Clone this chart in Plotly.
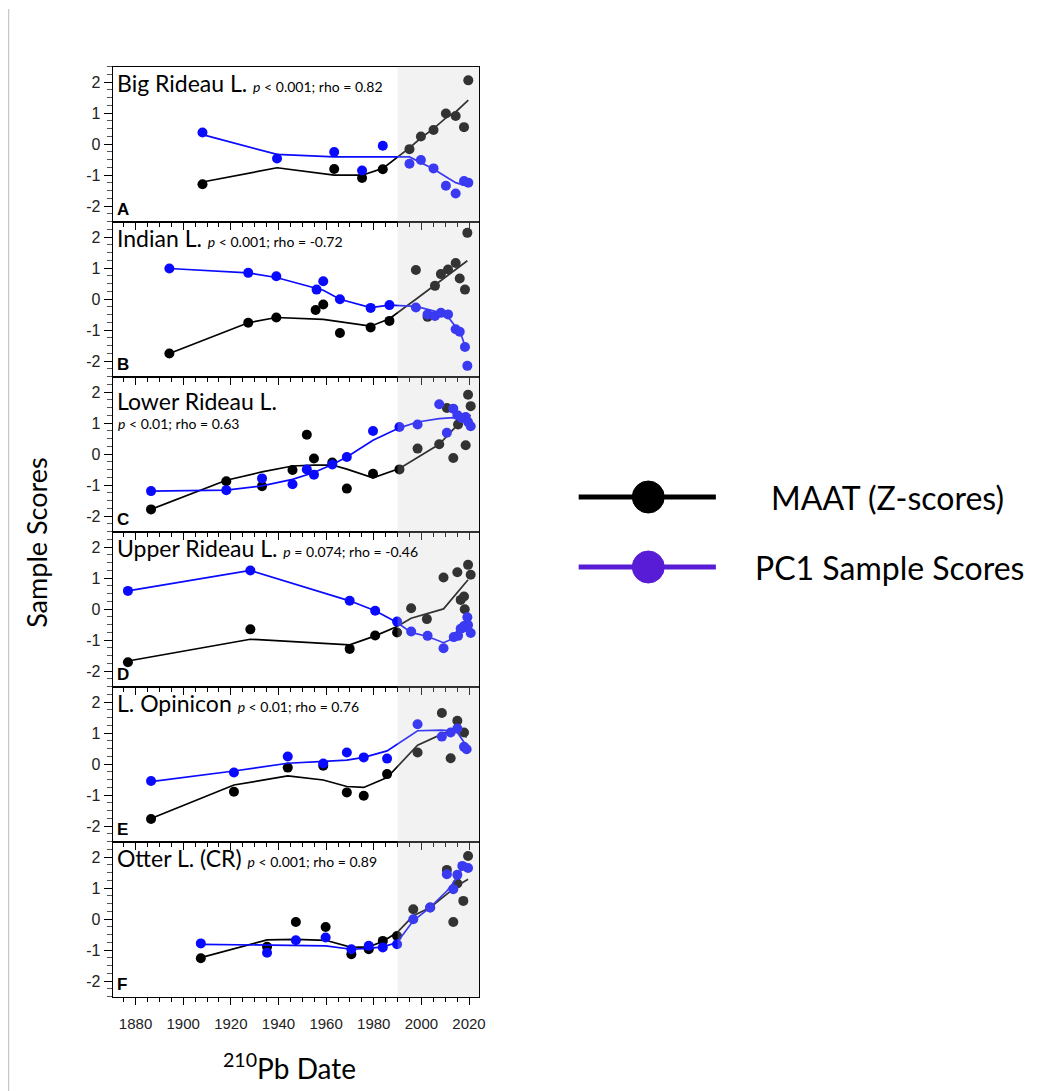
import plotly.graph_objects as go

# ---------------- DATA ----------------
lake_names = ["Big Rideau L.", "Indian L.", "Lower Rideau L.", "Upper Rideau L.", "L. Opinicon", "Otter L. (CR)"]
lake_stats = ["<i>p</i> &lt; 0.001; rho = 0.82", "<i>p</i> &lt; 0.001; rho = -0.72", "<i>p</i> &lt; 0.01; rho = 0.63",
              "<i>p</i> = 0.074; rho = -0.46", "<i>p</i> &lt; 0.01; rho = 0.76", "<i>p</i> &lt; 0.001; rho = 0.89"]
panel_letters = ["A", "B", "C", "D", "E", "F"]

# A - Big Rideau
A_maat_year = [1908.1, 1963.4, 1975.1, 1983.8, 1995.0, 1999.8, 2005.1, 2010.3, 2014.4, 2017.9, 2019.7]
A_maat = [-1.29, -0.80, -1.09, -0.81, -0.16, 0.25, 0.46, 0.99, 0.91, 0.55, 2.06]
A_maat_fit_year = [1908.1, 1939.4, 1963.4, 1975.1, 1983.8, 1995.0, 1999.8, 2005.1, 2010.3, 2014.4, 2019.7]
A_maat_fit = [-1.22, -0.76, -1.00, -1.00, -0.78, -0.12, 0.20, 0.50, 0.85, 1.04, 1.42]
A_pc1_year = [1908.1, 1939.4, 1963.4, 1975.1, 1983.8, 1995.0, 1999.8, 2005.1, 2010.3, 2014.4, 2017.9, 2019.7]
A_pc1 = [0.38, -0.46, -0.25, -0.85, -0.05, -0.63, -0.51, -0.78, -1.34, -1.59, -1.19, -1.24]
A_pc1_fit_year = [1908.1, 1939.4, 1963.4, 1975.1, 1983.8, 1995.0, 1999.8, 2005.1, 2010.3, 2014.4, 2017.9, 2019.7]
A_pc1_fit = [0.31, -0.33, -0.41, -0.42, -0.41, -0.41, -0.59, -0.80, -1.05, -1.24, -1.32, -1.34]

# B - Indian
B_maat_year = [1894.2, 1927.3, 1939.1, 1955.6, 1958.8, 1965.8, 1978.7, 1986.6, 1997.7, 2002.6, 2005.7, 2008.2, 2011.2, 2014.4, 2016.1, 2018.3, 2019.3]
B_maat = [-1.75, -0.76, -0.59, -0.35, -0.17, -1.09, -0.91, -0.70, 0.94, -0.57, 0.43, 0.81, 0.96, 1.17, 0.67, 0.31, 2.14]
B_maat_fit_year = [1894.2, 1927.3, 1939.1, 1958.8, 1978.7, 1986.6, 1997.7, 2005.7, 2014.4, 2019.3]
B_maat_fit = [-1.75, -0.76, -0.59, -0.65, -0.87, -0.63, 0.0, 0.45, 0.94, 1.24]
B_pc1_year = [1894.2, 1927.3, 1939.1, 1956.0, 1958.8, 1965.8, 1978.7, 1986.6, 1997.7, 2002.6, 2005.7, 2008.2, 2011.2, 2014.4, 2016.1, 2018.3, 2019.3]
B_pc1 = [0.99, 0.85, 0.74, 0.31, 0.58, 0.0, -0.28, -0.19, -0.27, -0.49, -0.54, -0.44, -0.49, -0.97, -1.05, -1.54, -2.15]
B_pc1_fit_year = [1894.2, 1927.3, 1939.1, 1956.0, 1958.8, 1965.8, 1978.7, 1986.6, 1997.7, 2002.6, 2005.7, 2008.2, 2011.2, 2014.4, 2016.1, 2018.3]
B_pc1_fit = [0.99, 0.85, 0.70, 0.34, 0.29, 0.0, -0.27, -0.19, -0.23, -0.33, -0.38, -0.44, -0.57, -0.89, -1.02, -1.50]

# C - Lower Rideau
C_maat_year = [1886.5, 1918.1, 1933.1, 1945.9, 1951.9, 1954.9, 1962.6, 1968.7, 1979.7, 1990.8, 1998.4, 2007.5, 2010.7, 2013.4, 2015.4, 2018.6, 2019.6, 2020.7]
C_maat = [-1.78, -0.87, -1.03, -0.51, 0.63, -0.14, -0.27, -1.11, -0.63, -0.49, 0.18, 0.32, 1.49, -0.12, 0.96, 0.29, 1.92, 1.55]
C_maat_fit_year = [1886.5, 1918.1, 1933.1, 1945.9, 1954.9, 1962.6, 1968.7, 1979.7, 1990.8, 1998.4, 2007.5, 2013.4, 2015.4, 2020.7]
C_maat_fit = [-1.78, -0.84, -0.57, -0.38, -0.35, -0.35, -0.48, -0.76, -0.46, -0.10, 0.32, 0.80, 0.96, 1.26]
C_pc1_year = [1886.5, 1918.1, 1933.1, 1945.9, 1951.9, 1954.9, 1962.6, 1968.7, 1979.7, 1990.8, 1998.4, 2007.5, 2010.7, 2013.4, 2015.1, 2016.9, 2018.6, 2019.6, 2020.7]
C_pc1 = [-1.19, -1.16, -0.78, -0.97, -0.49, -0.66, -0.33, -0.09, 0.75, 0.88, 0.96, 1.61, 0.69, 1.47, 1.26, 1.17, 1.20, 1.04, 0.90]
C_pc1_fit_year = [1886.5, 1918.1, 1933.1, 1945.9, 1954.9, 1962.6, 1968.7, 1979.7, 1990.8, 1998.4, 2007.5, 2013.4, 2018.6, 2020.7]
C_pc1_fit = [-1.19, -1.16, -1.02, -0.81, -0.59, -0.33, -0.09, 0.45, 0.85, 1.04, 1.15, 1.18, 1.17, 0.94]

# D - Upper Rideau
D_maat_year = [1876.8, 1928.2, 1969.9, 1980.6, 1989.8, 1995.7, 2002.3, 2009.3, 2015.1, 2016.5, 2017.9, 2018.2, 2019.6, 2020.7]
D_maat = [-1.71, -0.65, -1.28, -0.85, -0.75, 0.03, -0.32, 1.02, 1.19, 0.30, 0.41, 0.0, 1.43, 1.11]
D_maat_fit_year = [1876.8, 1928.2, 1969.9, 1980.6, 1989.8, 1995.7, 2009.3, 2013.6, 2016.5, 2019.6]
D_maat_fit = [-1.67, -0.97, -1.15, -0.86, -0.56, -0.29, 0.01, 0.41, 0.65, 0.95]
D_pc1_year = [1876.8, 1928.2, 1969.9, 1980.6, 1989.8, 1995.7, 2002.6, 2009.3, 2013.6, 2015.4, 2016.5, 2017.9, 2019.3, 2019.6, 2020.7]
D_pc1 = [0.59, 1.25, 0.27, -0.05, -0.40, -0.72, -0.86, -1.26, -0.90, -0.86, -0.63, -0.54, -0.26, -0.51, -0.77]
D_pc1_fit_year = [1876.8, 1928.2, 1969.9, 1980.6, 1989.8, 1995.7, 2002.6, 2009.3, 2013.6, 2016.5, 2019.6]
D_pc1_fit = [0.59, 1.25, 0.27, -0.05, -0.43, -0.75, -0.88, -1.08, -0.94, -0.77, -0.67]

# E - Opinicon
E_maat_year = [1886.5, 1921.3, 1943.9, 1958.8, 1968.7, 1975.8, 1985.6, 1998.4, 2008.6, 2012.3, 2015.1, 2017.9]
E_maat = [-1.77, -0.89, -0.11, -0.05, -0.91, -1.02, -0.32, 0.38, 1.65, 0.19, 1.40, 1.02]
E_maat_fit_year = [1886.5, 1921.3, 1943.9, 1958.8, 1968.7, 1975.8, 1985.6, 1998.4, 2008.6, 2012.3, 2015.1, 2019.0]
E_maat_fit = [-1.75, -0.67, -0.38, -0.51, -0.72, -0.75, -0.43, 0.61, 0.97, 1.08, 1.18, 0.86]
E_pc1_year = [1886.5, 1921.3, 1943.9, 1958.8, 1968.7, 1975.8, 1985.6, 1998.4, 2008.6, 2012.3, 2015.1, 2017.9, 2019.0]
E_pc1 = [-0.54, -0.27, 0.25, 0.02, 0.38, 0.22, 0.18, 1.29, 0.89, 1.02, 1.15, 0.56, 0.48]
E_pc1_fit_year = [1886.5, 1921.3, 1943.9, 1958.8, 1968.7, 1975.8, 1985.6, 1998.4, 2008.6, 2012.3, 2015.1, 2019.0]
E_pc1_fit = [-0.56, -0.22, 0.03, 0.08, 0.13, 0.22, 0.43, 1.08, 1.10, 1.08, 1.02, 0.59]

# F - Otter
F_maat_year = [1907.4, 1935.2, 1947.3, 1959.8, 1970.6, 1977.9, 1983.8, 1989.8, 1996.6, 2003.7, 2010.7, 2013.4, 2015.1, 2017.6, 2019.6]
F_maat = [-1.26, -0.89, -0.09, -0.25, -1.13, -0.97, -0.70, -0.54, 0.32, 0.38, 1.59, -0.09, 1.15, 0.59, 2.04]
F_maat_fit_year = [1907.4, 1935.2, 1947.3, 1959.8, 1970.6, 1977.9, 1983.8, 1989.8, 1996.6, 2003.7, 2010.7, 2015.1, 2019.6]
F_maat_fit = [-1.24, -0.67, -0.65, -0.68, -0.91, -0.89, -0.72, -0.43, 0.11, 0.38, 0.81, 1.08, 1.29]
F_pc1_year = [1907.4, 1935.2, 1947.3, 1959.8, 1970.6, 1977.9, 1983.8, 1989.8, 1996.6, 2003.7, 2010.7, 2013.4, 2015.1, 2017.2, 2019.6]
F_pc1 = [-0.78, -1.08, -0.68, -0.59, -0.97, -0.86, -0.91, -0.81, 0.0, 0.38, 1.45, 0.97, 1.43, 1.72, 1.65]
F_pc1_fit_year = [1907.4, 1959.8, 1970.6, 1977.9, 1983.8, 1989.8, 1996.6, 2003.7, 2010.7, 2015.1, 2017.2]
F_pc1_fit = [-0.81, -0.86, -0.97, -0.94, -0.89, -0.75, -0.05, 0.38, 0.91, 1.34, 1.67]

x_tick_vals = [1880, 1900, 1920, 1940, 1960, 1980, 2000, 2020]
y_tick_vals = [-2, -1, 0, 1, 2]
shade_start = 1990
legend_labels = ["MAAT (Z-scores)", "PC1 Sample Scores"]

panels = [
    (A_maat_year, A_maat, A_maat_fit_year, A_maat_fit, A_pc1_year, A_pc1, A_pc1_fit_year, A_pc1_fit),
    (B_maat_year, B_maat, B_maat_fit_year, B_maat_fit, B_pc1_year, B_pc1, B_pc1_fit_year, B_pc1_fit),
    (C_maat_year, C_maat, C_maat_fit_year, C_maat_fit, C_pc1_year, C_pc1, C_pc1_fit_year, C_pc1_fit),
    (D_maat_year, D_maat, D_maat_fit_year, D_maat_fit, D_pc1_year, D_pc1, D_pc1_fit_year, D_pc1_fit),
    (E_maat_year, E_maat, E_maat_fit_year, E_maat_fit, E_pc1_year, E_pc1, E_pc1_fit_year, E_pc1_fit),
    (F_maat_year, F_maat, F_maat_fit_year, F_maat_fit, F_pc1_year, F_pc1, F_pc1_fit_year, F_pc1_fit),
]

# ---------------- STYLE / LAYOUT ----------------
OFF = 8  # page body margin offset
W, H = 1045 - OFF, 1091 - OFF
X0PX, X1PX = 113.3, 482.0
TOP0 = 66.7
PH = 155.0
XRANGE = [1870.4, 2024.3]
YRANGE = [-2.5, 2.5]
BLACK = "#000000"
BLUE = "#0a0aff"
LEG_PURPLE = "#581cd6"
SANS = "Lato, 'Open Sans', sans-serif"
ARIAL = "'Liberation Sans', Arial, sans-serif"


def px_x(p):
    return (p - OFF) / W


def px_y(p):
    return 1 - (p - OFF) / H


fig = go.Figure()
shapes = []
annotations = []

for i, (my, mv, mfy, mfv, py, pv, pfy, pfv) in enumerate(panels):
    n = i + 1
    xa = "x" if n == 1 else f"x{n}"
    ya = "y" if n == 1 else f"y{n}"
    fig.add_trace(go.Scatter(x=mfy, y=mfv, mode="lines", line=dict(color=BLACK, width=1.7),
                             xaxis=xa, yaxis=ya, showlegend=False, hoverinfo="skip"))
    fig.add_trace(go.Scatter(x=my, y=mv, mode="markers", marker=dict(color=BLACK, size=10),
                             xaxis=xa, yaxis=ya, showlegend=False))
    fig.add_trace(go.Scatter(x=pfy, y=pfv, mode="lines", line=dict(color=BLUE, width=1.7),
                             xaxis=xa, yaxis=ya, showlegend=False, hoverinfo="skip"))
    fig.add_trace(go.Scatter(x=py, y=pv, mode="markers", marker=dict(color=BLUE, size=10),
                             xaxis=xa, yaxis=ya, showlegend=False))

    top = TOP0 + i * PH
    bot = top + PH
    last = (n == 6)
    xkey = "xaxis" if n == 1 else f"xaxis{n}"
    ykey = "yaxis" if n == 1 else f"yaxis{n}"
    fig.update_layout(**{
        xkey: dict(domain=[px_x(X0PX), px_x(X1PX)], range=XRANGE, anchor=ya,
                   tickmode="array", tickvals=x_tick_vals, showticklabels=last,
                   ticks="outside", ticklen=7, tickcolor="black", tickwidth=1,
                   ticklabelstandoff=6,
                   minor=dict(tickmode="linear", tick0=1870, dtick=5, ticks="outside",
                              ticklen=4, tickcolor="black", tickwidth=1),
                   showline=True, linecolor="black", linewidth=1, mirror=True,
                   showgrid=False, zeroline=False,
                   tickfont=dict(family=ARIAL, size=15, color="#222")),
        ykey: dict(domain=[px_y(bot), px_y(top)], range=YRANGE, anchor=xa,
                   tickmode="array", tickvals=y_tick_vals, ticktext=[str(v) for v in y_tick_vals],
                   ticks="outside", ticklen=8, tickcolor="black", tickwidth=1,
                   minor=dict(tickmode="linear", tick0=-2.5, dtick=0.25, ticks="outside",
                              ticklen=5, tickcolor="#555", tickwidth=1),
                   showline=True, linecolor="black", linewidth=1, mirror=True,
                   showgrid=False, zeroline=False,
                   tickfont=dict(family=ARIAL, size=16, color="#222")),
    })

    # shaded recent period (semi-transparent over the marks)
    shapes.append(dict(type="rect", xref=xa, yref=f"{ya} domain", x0=shade_start, x1=XRANGE[1],
                       y0=0, y1=1, fillcolor="rgba(204,204,204,0.25)", line=dict(width=0),
                       layer="above"))

    # panel title + stats
    if n == 3:
        annotations.append(dict(xref="paper", yref="paper", x=px_x(116), y=px_y(top + 24),
                                xanchor="left", yanchor="middle", showarrow=False,
                                text=lake_names[i], font=dict(family=SANS, size=23, color="black")))
        annotations.append(dict(xref="paper", yref="paper", x=px_x(117), y=px_y(top + 47),
                                xanchor="left", yanchor="middle", showarrow=False,
                                text=lake_stats[i], font=dict(family=SANS, size=14, color="black")))
    else:
        annotations.append(dict(xref="paper", yref="paper", x=px_x(116), y=px_y(top + 16),
                                xanchor="left", yanchor="middle", showarrow=False,
                                text=f"<span style='font-size:23px'>{lake_names[i]}</span> "
                                     f"<span style='font-size:14px'>{lake_stats[i]}</span>",
                                font=dict(family=SANS, size=23, color="black")))
    annotations.append(dict(xref="paper", yref="paper", x=px_x(116), y=px_y(bot - 1),
                            xanchor="left", yanchor="bottom", showarrow=False,
                            text=f"<b>{panel_letters[i]}</b>",
                            font=dict(family=ARIAL, size=17, color="black")))

# axis titles
annotations.append(dict(xref="paper", yref="paper", x=px_x(36), y=px_y(542),
                        xanchor="center", yanchor="middle", showarrow=False, textangle=-90,
                        text="Sample Scores", font=dict(family=SANS, size=27, color="black")))
annotations.append(dict(xref="paper", yref="paper", x=px_x(291), y=px_y(1066),
                        xanchor="center", yanchor="middle", showarrow=False,
                        text="<sup>210</sup>Pb Date", font=dict(family=SANS, size=28, color="black")))

# legend (drawn manually)
leg_colors = [BLACK, LEG_PURPLE]
leg_y = [497, 567]
leg_text_x = [773, 757]
for lbl, col, yy, tx in zip(legend_labels, leg_colors, leg_y, leg_text_x):
    shapes.append(dict(type="line", xref="paper", yref="paper", x0=px_x(582), x1=px_x(720),
                       y0=px_y(yy), y1=px_y(yy), line=dict(color=col, width=5)))
    shapes.append(dict(type="circle", xref="paper", yref="paper", xsizemode="pixel", ysizemode="pixel",
                       xanchor=px_x(652), yanchor=px_y(yy), x0=-16, x1=16, y0=-16, y1=16,
                       fillcolor=col, line=dict(color=col, width=1)))
    annotations.append(dict(xref="paper", yref="paper", x=px_x(tx), y=px_y(yy),
                            xanchor="left", yanchor="middle", showarrow=False,
                            text=lbl, font=dict(family=SANS, size=32, color="black")))

# faint left border line
shapes.append(dict(type="line", xref="paper", yref="paper", x0=px_x(8.5), x1=px_x(8.5),
                   y0=px_y(9), y1=0, line=dict(color="#c8c8c8", width=1.5)))

fig.update_layout(width=W, height=H, margin=dict(l=0, r=0, t=0, b=0), autosize=False,
                  plot_bgcolor="white", paper_bgcolor="white",
                  shapes=shapes, annotations=annotations, showlegend=False)

fig.write_html("out.html")
